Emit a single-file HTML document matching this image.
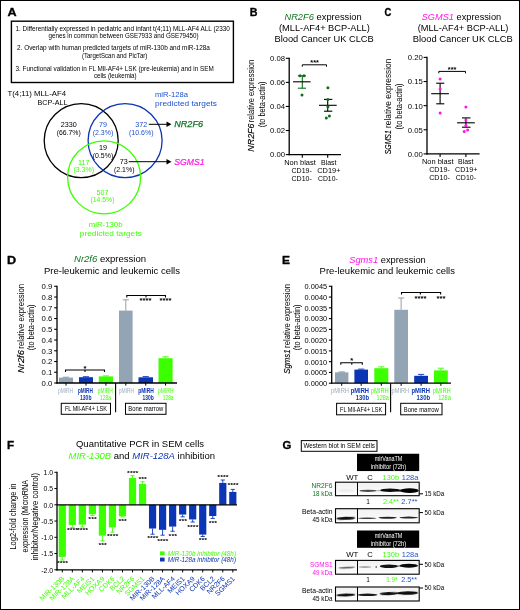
<!DOCTYPE html>
<html lang="en">
<head>
<meta charset="utf-8">
<title>Figure</title>
<style>
html,body{margin:0;padding:0;background:#fff;}
body{width:520px;height:610px;overflow:hidden;}
svg{display:block;font-family:'Liberation Sans', sans-serif;will-change:transform;}
</style>
</head>
<body>
<svg width="520" height="610" viewBox="0 0 520 610">
<defs>
<filter id="bl" x="-20%" y="-150%" width="140%" height="400%"><feGaussianBlur stdDeviation="0.6"/></filter>
<linearGradient id="bg" x1="0" y1="0" x2="0" y2="1"><stop offset="0" stop-color="#f1f1f1"/><stop offset="1" stop-color="#fdfdfd"/></linearGradient>
<clipPath id="cpG"><rect x="336" y="482.7" width="82.7" height="12.5"/><rect x="336" y="509.2" width="82.7" height="13.1"/><rect x="336" y="560.9" width="82.7" height="12.8"/><rect x="336" y="587.5" width="82.7" height="13"/></clipPath>
</defs>
<rect x="0" y="0" width="520" height="610" fill="#fff"/>
<g id="panelA">
<text x="7.44" y="15.70" font-size="10" font-weight="bold" textLength="9.12" lengthAdjust="spacingAndGlyphs" stroke="#000" stroke-width="0.3">A</text>
<rect x="11.40" y="21.20" width="222.00" height="61.30" fill="none" stroke="#000" stroke-width="1.4" />
<text x="15.50" y="30.65" font-size="6.8" textLength="214.30" lengthAdjust="spacingAndGlyphs">1. Differentially expressed in pediatric and infant t(4;11) MLL-AF4 ALL (2330</text>
<text x="48.50" y="38.15" font-size="6.8" textLength="150.10" lengthAdjust="spacingAndGlyphs">genes in common between GSE7933 and GSE79450)</text>
<text x="17.00" y="50.25" font-size="6.8" textLength="192.90" lengthAdjust="spacingAndGlyphs">2. Overlap with human predicted targets of miR-130b and miR-128a</text>
<text x="81.90" y="58.25" font-size="6.8" textLength="65.50" lengthAdjust="spacingAndGlyphs">(TargetScan and PicTar)</text>
<text x="15.50" y="70.55" font-size="6.8" textLength="198.20" lengthAdjust="spacingAndGlyphs">3. Functional validation in FL Mll-AF4+ LSK (pre-leukemia) and in SEM</text>
<text x="93.90" y="77.95" font-size="6.8" textLength="42.70" lengthAdjust="spacingAndGlyphs">cells (leukemia)</text>
<text x="7.50" y="96.18" font-size="8" textLength="58.50" lengthAdjust="spacingAndGlyphs">T(4;11) MLL-AF4</text>
<text x="37.50" y="104.88" font-size="8" textLength="30.00" lengthAdjust="spacingAndGlyphs">BCP-ALL</text>
<text x="155.00" y="96.88" font-size="8" textLength="33.00" lengthAdjust="spacingAndGlyphs" fill="#1f50cc">miR-128a</text>
<text x="155.00" y="105.88" font-size="8" textLength="62.00" lengthAdjust="spacingAndGlyphs" fill="#1f50cc">predicted targets</text>
<circle cx="81.2" cy="140.6" r="37" fill="none" stroke="#000" stroke-width="1.3"/>
<circle cx="125.1" cy="140.6" r="37" fill="none" stroke="#0a35b4" stroke-width="1.3"/>
<circle cx="104.1" cy="177.3" r="36.5" fill="none" stroke="#3cff00" stroke-width="1.3"/>
<text x="60.75" y="127.13" font-size="7.3" textLength="16.00" lengthAdjust="spacingAndGlyphs">2330</text>
<text x="56.75" y="134.63" font-size="7.3" textLength="24.00" lengthAdjust="spacingAndGlyphs">(66.7%)</text>
<text x="99.00" y="127.13" font-size="7.3" textLength="8.00" lengthAdjust="spacingAndGlyphs" fill="#1f50cc">79</text>
<text x="92.75" y="134.63" font-size="7.3" textLength="20.50" lengthAdjust="spacingAndGlyphs" fill="#1f50cc">(2.3%)</text>
<text x="99.00" y="150.13" font-size="7.3" textLength="8.00" lengthAdjust="spacingAndGlyphs">19</text>
<text x="92.75" y="157.63" font-size="7.3" textLength="20.50" lengthAdjust="spacingAndGlyphs">(0.5%)</text>
<text x="78.00" y="165.13" font-size="7.3" textLength="11.50" lengthAdjust="spacingAndGlyphs" fill="#3cff00">117</text>
<text x="73.50" y="172.13" font-size="7.3" textLength="20.50" lengthAdjust="spacingAndGlyphs" fill="#3cff00">(3.3%)</text>
<text x="96.50" y="194.63" font-size="7.3" textLength="12.00" lengthAdjust="spacingAndGlyphs" fill="#3cff00">507</text>
<text x="90.50" y="201.93" font-size="7.3" textLength="24.00" lengthAdjust="spacingAndGlyphs" fill="#3cff00">(14.5%)</text>
<text x="119.75" y="163.93" font-size="7.3" textLength="8.00" lengthAdjust="spacingAndGlyphs">73</text>
<text x="114.00" y="172.13" font-size="7.3" textLength="20.50" lengthAdjust="spacingAndGlyphs">(2.1%)</text>
<text x="135.25" y="126.93" font-size="7.3" textLength="12.00" lengthAdjust="spacingAndGlyphs" fill="#1f50cc">372</text>
<text x="129.00" y="134.63" font-size="7.3" textLength="24.50" lengthAdjust="spacingAndGlyphs" fill="#1f50cc">(10.6%)</text>
<line x1="148.75" y1="124.30" x2="168.00" y2="124.30" stroke="#000" stroke-width="1" />
<path d="M171.5,124.3 L166.5,121.6 L166.5,127 Z" fill="#000"/>
<line x1="128.75" y1="161.70" x2="168.00" y2="161.70" stroke="#000" stroke-width="1" />
<path d="M171.5,161.7 L166.5,159 L166.5,164.4 Z" fill="#000"/>
<text x="174.25" y="127.40" font-size="8.6" textLength="28.75" lengthAdjust="spacingAndGlyphs" fill="#107522" font-style="italic" stroke="#107522" stroke-width="0.25">NR2F6</text>
<text x="174.25" y="164.70" font-size="8.6" textLength="30.25" lengthAdjust="spacingAndGlyphs" fill="#ff14e6" font-style="italic" stroke="#ff14e6" stroke-width="0.2">SGMS1</text>
<text x="88.80" y="227.08" font-size="8" textLength="33.70" lengthAdjust="spacingAndGlyphs" fill="#3cff00">miR-130b</text>
<text x="79.80" y="236.38" font-size="8" textLength="61.90" lengthAdjust="spacingAndGlyphs" fill="#3cff00">predicted targets</text>
</g>
<g id="panelB">
<text x="249.72" y="15.80" font-size="10" font-weight="bold" textLength="7.75" lengthAdjust="spacingAndGlyphs" stroke="#000" stroke-width="0.3">B</text>
<text x="284.40" y="20.17" font-size="8.8" textLength="77.30" lengthAdjust="spacingAndGlyphs"><tspan fill="#107522" font-style="italic">NR2F6</tspan> expression</text>
<text x="279.00" y="30.87" font-size="8.8" textLength="90.80" lengthAdjust="spacingAndGlyphs">(MLL-AF4+ BCP-ALL)</text>
<text x="274.50" y="42.17" font-size="8.8" textLength="99.30" lengthAdjust="spacingAndGlyphs">Blood Cancer UK CLCB</text>
<line x1="289.20" y1="57.70" x2="289.20" y2="155.20" stroke="#000" stroke-width="1.3" />
<line x1="288.60" y1="154.60" x2="341.00" y2="154.60" stroke="#000" stroke-width="1.3" />
<line x1="285.80" y1="58.30" x2="289.20" y2="58.30" stroke="#000" stroke-width="1.1" />
<text x="270.00" y="61.18" font-size="8" textLength="15.00" lengthAdjust="spacingAndGlyphs">0.08</text>
<line x1="285.80" y1="82.38" x2="289.20" y2="82.38" stroke="#000" stroke-width="1.1" />
<text x="270.00" y="85.25" font-size="8" textLength="15.00" lengthAdjust="spacingAndGlyphs">0.06</text>
<line x1="285.80" y1="106.45" x2="289.20" y2="106.45" stroke="#000" stroke-width="1.1" />
<text x="270.00" y="109.33" font-size="8" textLength="15.00" lengthAdjust="spacingAndGlyphs">0.04</text>
<line x1="285.80" y1="130.52" x2="289.20" y2="130.52" stroke="#000" stroke-width="1.1" />
<text x="270.00" y="133.40" font-size="8" textLength="15.00" lengthAdjust="spacingAndGlyphs">0.02</text>
<line x1="285.80" y1="154.60" x2="289.20" y2="154.60" stroke="#000" stroke-width="1.1" />
<text x="270.00" y="157.48" font-size="8" textLength="15.00" lengthAdjust="spacingAndGlyphs">0.00</text>
<line x1="302.30" y1="154.60" x2="302.30" y2="157.80" stroke="#000" stroke-width="1.1" />
<line x1="327.70" y1="154.60" x2="327.70" y2="157.80" stroke="#000" stroke-width="1.1" />
<text transform="translate(254.24,151.70) rotate(-90)" font-size="9.9" font-style="italic" textLength="28.20" lengthAdjust="spacingAndGlyphs" stroke="#000" stroke-width="0.15">NR2F6</text>
<text transform="translate(254.24,122.30) rotate(-90)" font-size="9" textLength="62.50" lengthAdjust="spacingAndGlyphs">relative expression</text>
<text transform="translate(265.32,104.40) rotate(-90)" font-size="8.4" text-anchor="middle" textLength="45.80" lengthAdjust="spacingAndGlyphs">(to beta-actin)</text>
<line x1="302.30" y1="75.80" x2="302.30" y2="88.20" stroke="#0f6e1a" stroke-width="1.1" />
<line x1="297.90" y1="75.80" x2="306.00" y2="75.80" stroke="#0f6e1a" stroke-width="1.1" />
<line x1="297.90" y1="88.20" x2="306.00" y2="88.20" stroke="#0f6e1a" stroke-width="1.1" />
<line x1="293.10" y1="81.80" x2="310.60" y2="81.80" stroke="#000" stroke-width="1.1" />
<circle cx="300.00" cy="75.80" r="1.5" fill="#0f6e1a"/>
<circle cx="304.00" cy="75.80" r="1.5" fill="#0f6e1a"/>
<circle cx="302.00" cy="95.00" r="1.5" fill="#0f6e1a"/>
<line x1="327.70" y1="99.40" x2="327.70" y2="111.20" stroke="#000" stroke-width="1.1" />
<line x1="324.00" y1="99.40" x2="332.30" y2="99.40" stroke="#000" stroke-width="1.1" />
<line x1="324.00" y1="111.20" x2="332.30" y2="111.20" stroke="#000" stroke-width="1.1" />
<line x1="319.00" y1="105.30" x2="336.70" y2="105.30" stroke="#000" stroke-width="1.1" />
<circle cx="327.90" cy="87.80" r="1.5" fill="#0f6e1a"/>
<circle cx="327.90" cy="99.40" r="1.5" fill="#0f6e1a"/>
<circle cx="327.90" cy="106.70" r="1.5" fill="#0f6e1a"/>
<circle cx="329.40" cy="115.90" r="1.5" fill="#0f6e1a"/>
<circle cx="326.30" cy="118.10" r="1.5" fill="#0f6e1a"/>
<path d="M302.30,66.70 V64.80 H326.50 V66.70" stroke="#000" stroke-width="1" fill="none" />
<text x="310.30" y="65.24" font-size="6.5" textLength="8.60" lengthAdjust="spacingAndGlyphs" font-weight="bold">***</text>
<text x="284.20" y="164.94" font-size="7.6" textLength="31.60" lengthAdjust="spacingAndGlyphs">Non blast</text>
<text x="291.50" y="173.14" font-size="7.6" textLength="20.30" lengthAdjust="spacingAndGlyphs">CD19-</text>
<text x="291.50" y="180.54" font-size="7.6" textLength="20.30" lengthAdjust="spacingAndGlyphs">CD10-</text>
<text x="321.00" y="164.94" font-size="7.6" textLength="15.50" lengthAdjust="spacingAndGlyphs">Blast</text>
<text x="317.20" y="173.14" font-size="7.6" textLength="23.30" lengthAdjust="spacingAndGlyphs">CD19+</text>
<text x="318.00" y="180.54" font-size="7.6" textLength="19.70" lengthAdjust="spacingAndGlyphs">CD10-</text>
</g>
<g id="panelC">
<text x="384.38" y="15.80" font-size="10" font-weight="bold" textLength="6.84" lengthAdjust="spacingAndGlyphs" stroke="#000" stroke-width="0.3">C</text>
<text x="421.70" y="20.17" font-size="8.8" textLength="79.50" lengthAdjust="spacingAndGlyphs"><tspan fill="#ff14e6" font-style="italic">SGMS1</tspan> expression</text>
<text x="417.70" y="30.87" font-size="8.8" textLength="90.70" lengthAdjust="spacingAndGlyphs">(MLL-AF4+ BCP-ALL)</text>
<text x="412.80" y="42.17" font-size="8.8" textLength="99.90" lengthAdjust="spacingAndGlyphs">Blood Cancer UK CLCB</text>
<line x1="427.00" y1="56.80" x2="427.00" y2="154.50" stroke="#000" stroke-width="1.3" />
<line x1="426.40" y1="153.90" x2="479.60" y2="153.90" stroke="#000" stroke-width="1.3" />
<line x1="423.60" y1="57.40" x2="427.00" y2="57.40" stroke="#000" stroke-width="1.1" />
<text x="407.80" y="60.28" font-size="8" textLength="15.00" lengthAdjust="spacingAndGlyphs">0.20</text>
<line x1="423.60" y1="81.53" x2="427.00" y2="81.53" stroke="#000" stroke-width="1.1" />
<text x="407.80" y="84.41" font-size="8" textLength="15.00" lengthAdjust="spacingAndGlyphs">0.15</text>
<line x1="423.60" y1="105.65" x2="427.00" y2="105.65" stroke="#000" stroke-width="1.1" />
<text x="407.80" y="108.53" font-size="8" textLength="15.00" lengthAdjust="spacingAndGlyphs">0.10</text>
<line x1="423.60" y1="129.78" x2="427.00" y2="129.78" stroke="#000" stroke-width="1.1" />
<text x="407.80" y="132.66" font-size="8" textLength="15.00" lengthAdjust="spacingAndGlyphs">0.05</text>
<line x1="423.60" y1="153.90" x2="427.00" y2="153.90" stroke="#000" stroke-width="1.1" />
<text x="407.80" y="156.78" font-size="8" textLength="15.00" lengthAdjust="spacingAndGlyphs">0.00</text>
<line x1="440.10" y1="153.90" x2="440.10" y2="157.10" stroke="#000" stroke-width="1.1" />
<line x1="465.90" y1="153.90" x2="465.90" y2="157.10" stroke="#000" stroke-width="1.1" />
<text transform="translate(390.84,154.20) rotate(-90)" font-size="9.9" font-style="italic" textLength="23.90" lengthAdjust="spacingAndGlyphs" stroke="#000" stroke-width="0.15">SGMS1</text>
<text transform="translate(390.84,127.90) rotate(-90)" font-size="9" textLength="69.20" lengthAdjust="spacingAndGlyphs">relative expression</text>
<text transform="translate(402.22,106.40) rotate(-90)" font-size="8.4" text-anchor="middle" textLength="46.00" lengthAdjust="spacingAndGlyphs">(to beta-actin)</text>
<line x1="440.10" y1="83.20" x2="440.10" y2="103.80" stroke="#000" stroke-width="1.1" />
<line x1="436.20" y1="83.20" x2="444.30" y2="83.20" stroke="#000" stroke-width="1.1" />
<line x1="436.20" y1="103.80" x2="444.30" y2="103.80" stroke="#000" stroke-width="1.1" />
<line x1="431.20" y1="93.70" x2="448.90" y2="93.70" stroke="#000" stroke-width="1.1" />
<circle cx="440.10" cy="79.00" r="1.5" fill="#ff14e6"/>
<circle cx="440.10" cy="89.10" r="1.5" fill="#ff14e6"/>
<circle cx="440.10" cy="113.10" r="1.5" fill="#ff14e6"/>
<line x1="465.90" y1="117.90" x2="465.90" y2="127.20" stroke="#000" stroke-width="1.1" />
<line x1="462.00" y1="117.90" x2="470.50" y2="117.90" stroke="#000" stroke-width="1.1" />
<line x1="462.00" y1="127.20" x2="470.50" y2="127.20" stroke="#000" stroke-width="1.1" />
<line x1="457.10" y1="122.80" x2="474.80" y2="122.80" stroke="#000" stroke-width="1.1" />
<circle cx="465.90" cy="107.00" r="1.5" fill="#ff14e6"/>
<circle cx="465.90" cy="119.90" r="1.5" fill="#ff14e6"/>
<circle cx="465.90" cy="125.40" r="1.5" fill="#ff14e6"/>
<circle cx="467.60" cy="130.10" r="1.5" fill="#ff14e6"/>
<circle cx="464.20" cy="131.40" r="1.5" fill="#ff14e6"/>
<path d="M438.80,73.30 V71.40 H465.50 V73.30" stroke="#000" stroke-width="1" fill="none" />
<text x="447.80" y="72.04" font-size="6.5" textLength="8.60" lengthAdjust="spacingAndGlyphs" font-weight="bold">***</text>
<text x="421.90" y="164.44" font-size="7.6" textLength="31.60" lengthAdjust="spacingAndGlyphs">Non blast</text>
<text x="429.20" y="171.94" font-size="7.6" textLength="20.70" lengthAdjust="spacingAndGlyphs">CD19-</text>
<text x="429.20" y="179.54" font-size="7.6" textLength="20.70" lengthAdjust="spacingAndGlyphs">CD10-</text>
<text x="458.00" y="164.44" font-size="7.6" textLength="15.50" lengthAdjust="spacingAndGlyphs">Blast</text>
<text x="455.00" y="171.94" font-size="7.6" textLength="22.30" lengthAdjust="spacingAndGlyphs">CD19+</text>
<text x="455.80" y="179.54" font-size="7.6" textLength="20.20" lengthAdjust="spacingAndGlyphs">CD10-</text>
</g>
<g id="panelD">
<text x="6.94" y="264.10" font-size="10" font-weight="bold" textLength="9.12" lengthAdjust="spacingAndGlyphs" stroke="#000" stroke-width="0.3">D</text>
<text x="74.00" y="262.10" font-size="8.6" textLength="72.00" lengthAdjust="spacingAndGlyphs"><tspan fill="#107522" font-style="italic">Nr2f6</tspan> expression</text>
<text x="44.00" y="274.10" font-size="8.6" textLength="136.00" lengthAdjust="spacingAndGlyphs">Pre-leukemic and leukemic cells</text>
<rect x="59.00" y="377.60" width="14.00" height="5.40" fill="#93a4b5" />
<line x1="66.00" y1="377.20" x2="66.00" y2="377.60" stroke="#7d91a4" stroke-width="0.9" />
<line x1="62.90" y1="377.20" x2="69.10" y2="377.20" stroke="#7d91a4" stroke-width="0.9" />
<line x1="66.00" y1="383.00" x2="66.00" y2="385.60" stroke="#000" stroke-width="1" />
<rect x="79.00" y="377.20" width="14.00" height="5.80" fill="#0a35b4" />
<line x1="86.00" y1="376.70" x2="86.00" y2="377.20" stroke="#0a35b4" stroke-width="0.9" />
<line x1="82.90" y1="376.70" x2="89.10" y2="376.70" stroke="#0a35b4" stroke-width="0.9" />
<line x1="86.00" y1="383.00" x2="86.00" y2="385.60" stroke="#000" stroke-width="1" />
<rect x="98.80" y="376.40" width="14.20" height="6.60" fill="#3cff00" />
<line x1="105.90" y1="375.90" x2="105.90" y2="376.40" stroke="#3cff00" stroke-width="0.9" />
<line x1="102.80" y1="375.90" x2="109.00" y2="375.90" stroke="#3cff00" stroke-width="0.9" />
<line x1="105.90" y1="383.00" x2="105.90" y2="385.60" stroke="#000" stroke-width="1" />
<rect x="119.00" y="310.60" width="13.60" height="72.40" fill="#93a4b5" />
<line x1="125.80" y1="299.80" x2="125.80" y2="310.60" stroke="#8296a9" stroke-width="0.9" />
<line x1="122.70" y1="299.80" x2="128.90" y2="299.80" stroke="#8296a9" stroke-width="0.9" />
<line x1="125.80" y1="383.00" x2="125.80" y2="385.60" stroke="#000" stroke-width="1" />
<rect x="138.50" y="377.30" width="14.50" height="5.70" fill="#0a35b4" />
<line x1="145.75" y1="376.60" x2="145.75" y2="377.30" stroke="#0a35b4" stroke-width="0.9" />
<line x1="142.65" y1="376.60" x2="148.85" y2="376.60" stroke="#0a35b4" stroke-width="0.9" />
<line x1="145.75" y1="383.00" x2="145.75" y2="385.60" stroke="#000" stroke-width="1" />
<rect x="158.50" y="358.20" width="14.10" height="24.80" fill="#3cff00" />
<line x1="165.55" y1="356.80" x2="165.55" y2="358.20" stroke="#3cff00" stroke-width="0.9" />
<line x1="162.45" y1="356.80" x2="168.65" y2="356.80" stroke="#3cff00" stroke-width="0.9" />
<line x1="165.55" y1="383.00" x2="165.55" y2="385.60" stroke="#000" stroke-width="1" />
<line x1="57.00" y1="285.70" x2="57.00" y2="383.60" stroke="#000" stroke-width="1.3" />
<line x1="56.40" y1="383.00" x2="177.00" y2="383.00" stroke="#000" stroke-width="1.3" />
<line x1="54.20" y1="286.30" x2="57.00" y2="286.30" stroke="#000" stroke-width="1.1" />
<text x="41.60" y="289.18" font-size="8" textLength="10.80" lengthAdjust="spacingAndGlyphs">0.9</text>
<line x1="54.20" y1="297.04" x2="57.00" y2="297.04" stroke="#000" stroke-width="1.1" />
<text x="41.60" y="299.92" font-size="8" textLength="10.80" lengthAdjust="spacingAndGlyphs">0.8</text>
<line x1="54.20" y1="307.79" x2="57.00" y2="307.79" stroke="#000" stroke-width="1.1" />
<text x="41.60" y="310.67" font-size="8" textLength="10.80" lengthAdjust="spacingAndGlyphs">0.7</text>
<line x1="54.20" y1="318.53" x2="57.00" y2="318.53" stroke="#000" stroke-width="1.1" />
<text x="41.60" y="321.41" font-size="8" textLength="10.80" lengthAdjust="spacingAndGlyphs">0.6</text>
<line x1="54.20" y1="329.28" x2="57.00" y2="329.28" stroke="#000" stroke-width="1.1" />
<text x="41.60" y="332.16" font-size="8" textLength="10.80" lengthAdjust="spacingAndGlyphs">0.5</text>
<line x1="54.20" y1="340.02" x2="57.00" y2="340.02" stroke="#000" stroke-width="1.1" />
<text x="41.60" y="342.90" font-size="8" textLength="10.80" lengthAdjust="spacingAndGlyphs">0.4</text>
<line x1="54.20" y1="350.77" x2="57.00" y2="350.77" stroke="#000" stroke-width="1.1" />
<text x="41.60" y="353.65" font-size="8" textLength="10.80" lengthAdjust="spacingAndGlyphs">0.3</text>
<line x1="54.20" y1="361.51" x2="57.00" y2="361.51" stroke="#000" stroke-width="1.1" />
<text x="41.60" y="364.39" font-size="8" textLength="10.80" lengthAdjust="spacingAndGlyphs">0.2</text>
<line x1="54.20" y1="372.26" x2="57.00" y2="372.26" stroke="#000" stroke-width="1.1" />
<text x="41.60" y="375.14" font-size="8" textLength="10.80" lengthAdjust="spacingAndGlyphs">0.1</text>
<line x1="54.20" y1="383.00" x2="57.00" y2="383.00" stroke="#000" stroke-width="1.1" />
<text x="41.60" y="385.88" font-size="8" textLength="10.80" lengthAdjust="spacingAndGlyphs">0.0</text>
<line x1="115.60" y1="383.00" x2="115.60" y2="412.30" stroke="#000" stroke-width="1.1" />
<text transform="translate(24.24,373.00) rotate(-90)" font-size="9.9" font-style="italic" textLength="22.90" lengthAdjust="spacingAndGlyphs" stroke="#000" stroke-width="0.15">Nr2f6</text>
<text transform="translate(24.24,348.70) rotate(-90)" font-size="9" textLength="64.80" lengthAdjust="spacingAndGlyphs">relative expression</text>
<text transform="translate(34.32,327.30) rotate(-90)" font-size="8.4" text-anchor="middle" textLength="45.70" lengthAdjust="spacingAndGlyphs">(to beta-actin)</text>
<text x="58.00" y="393.22" font-size="7" textLength="15.00" lengthAdjust="spacingAndGlyphs" fill="#9aabbb">pMIRH</text>
<text x="78.00" y="393.22" font-size="7" textLength="14.80" lengthAdjust="spacingAndGlyphs" fill="#0a35b4" font-weight="bold">pMIRH</text>
<text x="80.00" y="399.72" font-size="7" textLength="11.50" lengthAdjust="spacingAndGlyphs" fill="#0a35b4" font-weight="bold">130b</text>
<text x="97.70" y="393.22" font-size="7" textLength="15.10" lengthAdjust="spacingAndGlyphs" fill="#3cff00">pMIRH</text>
<text x="100.00" y="399.72" font-size="7" textLength="11.00" lengthAdjust="spacingAndGlyphs" fill="#3cff00">128a</text>
<text x="118.80" y="393.22" font-size="7" textLength="15.40" lengthAdjust="spacingAndGlyphs" fill="#9aabbb">pMIRH</text>
<text x="138.20" y="393.22" font-size="7" textLength="15.60" lengthAdjust="spacingAndGlyphs" fill="#0a35b4" font-weight="bold">pMIRH</text>
<text x="142.60" y="399.52" font-size="7" textLength="11.20" lengthAdjust="spacingAndGlyphs" fill="#0a35b4" font-weight="bold">130b</text>
<text x="158.00" y="393.22" font-size="7" textLength="15.50" lengthAdjust="spacingAndGlyphs" fill="#3cff00">pMIRH</text>
<text x="162.80" y="399.52" font-size="7" textLength="10.70" lengthAdjust="spacingAndGlyphs" fill="#3cff00">128a</text>
<rect x="61.25" y="403.30" width="49.25" height="11.00" fill="none" stroke="#000" stroke-width="1" />
<text x="64.88" y="411.32" font-size="7" textLength="42.00" lengthAdjust="spacingAndGlyphs">FL Mll-AF4+ LSK</text>
<rect x="125.50" y="403.30" width="40.50" height="11.00" fill="none" stroke="#000" stroke-width="1" />
<text x="128.25" y="411.32" font-size="7" textLength="35.00" lengthAdjust="spacingAndGlyphs">Bone marrow</text>
<path d="M65.50,372.00 V370.00 H104.50 V372.00 M85.00,370.00 V372.00" stroke="#000" stroke-width="1.1" fill="none" />
<text x="83.50" y="370.54" font-size="6.5" textLength="3.00" lengthAdjust="spacingAndGlyphs" font-weight="bold">*</text>
<path d="M126.80,297.50 V295.50 H165.50 V297.50 M146.00,295.50 V297.50" stroke="#000" stroke-width="1.1" fill="none" />
<text x="139.50" y="303.34" font-size="6.5" textLength="12.00" lengthAdjust="spacingAndGlyphs" font-weight="bold">****</text>
<text x="159.50" y="303.34" font-size="6.5" textLength="12.00" lengthAdjust="spacingAndGlyphs" font-weight="bold">****</text>
</g>
<g id="panelE">
<text x="282.01" y="264.10" font-size="10" font-weight="bold" textLength="7.98" lengthAdjust="spacingAndGlyphs" stroke="#000" stroke-width="0.3">E</text>
<text x="349.20" y="262.50" font-size="8.6" textLength="76.60" lengthAdjust="spacingAndGlyphs"><tspan fill="#ff14e6" font-style="italic">Sgms1</tspan> expression</text>
<text x="319.60" y="273.80" font-size="8.6" textLength="135.30" lengthAdjust="spacingAndGlyphs">Pre-leukemic and leukemic cells</text>
<rect x="335.00" y="372.30" width="13.40" height="10.90" fill="#93a4b5" />
<line x1="341.70" y1="371.90" x2="341.70" y2="372.30" stroke="#7d91a4" stroke-width="0.9" />
<line x1="338.60" y1="371.90" x2="344.80" y2="371.90" stroke="#7d91a4" stroke-width="0.9" />
<line x1="341.70" y1="383.20" x2="341.70" y2="385.80" stroke="#000" stroke-width="1" />
<rect x="354.40" y="369.60" width="13.60" height="13.60" fill="#0a35b4" />
<line x1="361.20" y1="369.10" x2="361.20" y2="369.60" stroke="#0a35b4" stroke-width="0.9" />
<line x1="358.10" y1="369.10" x2="364.30" y2="369.10" stroke="#0a35b4" stroke-width="0.9" />
<line x1="361.20" y1="383.20" x2="361.20" y2="385.80" stroke="#000" stroke-width="1" />
<rect x="374.30" y="368.20" width="14.00" height="15.00" fill="#3cff00" />
<line x1="381.30" y1="366.80" x2="381.30" y2="368.20" stroke="#3cff00" stroke-width="0.9" />
<line x1="378.20" y1="366.80" x2="384.40" y2="366.80" stroke="#3cff00" stroke-width="0.9" />
<line x1="381.30" y1="383.20" x2="381.30" y2="385.80" stroke="#000" stroke-width="1" />
<rect x="394.30" y="309.80" width="13.70" height="73.40" fill="#93a4b5" />
<line x1="401.15" y1="298.00" x2="401.15" y2="309.80" stroke="#8296a9" stroke-width="0.9" />
<line x1="398.05" y1="298.00" x2="404.25" y2="298.00" stroke="#8296a9" stroke-width="0.9" />
<line x1="401.15" y1="383.20" x2="401.15" y2="385.80" stroke="#000" stroke-width="1" />
<rect x="414.20" y="375.80" width="13.80" height="7.40" fill="#0a35b4" />
<line x1="421.10" y1="374.40" x2="421.10" y2="375.80" stroke="#0a35b4" stroke-width="0.9" />
<line x1="418.00" y1="374.40" x2="424.20" y2="374.40" stroke="#0a35b4" stroke-width="0.9" />
<line x1="421.10" y1="383.20" x2="421.10" y2="385.80" stroke="#000" stroke-width="1" />
<rect x="434.00" y="370.40" width="13.80" height="12.80" fill="#3cff00" />
<line x1="440.90" y1="368.20" x2="440.90" y2="370.40" stroke="#3cff00" stroke-width="0.9" />
<line x1="437.80" y1="368.20" x2="444.00" y2="368.20" stroke="#3cff00" stroke-width="0.9" />
<line x1="440.90" y1="383.20" x2="440.90" y2="385.80" stroke="#000" stroke-width="1" />
<line x1="331.70" y1="285.70" x2="331.70" y2="383.80" stroke="#000" stroke-width="1.3" />
<line x1="331.10" y1="383.20" x2="451.00" y2="383.20" stroke="#000" stroke-width="1.3" />
<line x1="328.90" y1="286.30" x2="331.70" y2="286.30" stroke="#000" stroke-width="1.1" />
<text x="304.50" y="289.18" font-size="8" textLength="22.60" lengthAdjust="spacingAndGlyphs">0.0045</text>
<line x1="328.90" y1="297.07" x2="331.70" y2="297.07" stroke="#000" stroke-width="1.1" />
<text x="304.50" y="299.95" font-size="8" textLength="22.60" lengthAdjust="spacingAndGlyphs">0.0040</text>
<line x1="328.90" y1="307.83" x2="331.70" y2="307.83" stroke="#000" stroke-width="1.1" />
<text x="304.50" y="310.71" font-size="8" textLength="22.60" lengthAdjust="spacingAndGlyphs">0.0035</text>
<line x1="328.90" y1="318.60" x2="331.70" y2="318.60" stroke="#000" stroke-width="1.1" />
<text x="304.50" y="321.48" font-size="8" textLength="22.60" lengthAdjust="spacingAndGlyphs">0.0030</text>
<line x1="328.90" y1="329.37" x2="331.70" y2="329.37" stroke="#000" stroke-width="1.1" />
<text x="304.50" y="332.25" font-size="8" textLength="22.60" lengthAdjust="spacingAndGlyphs">0.0025</text>
<line x1="328.90" y1="340.13" x2="331.70" y2="340.13" stroke="#000" stroke-width="1.1" />
<text x="304.50" y="343.01" font-size="8" textLength="22.60" lengthAdjust="spacingAndGlyphs">0.0020</text>
<line x1="328.90" y1="350.90" x2="331.70" y2="350.90" stroke="#000" stroke-width="1.1" />
<text x="304.50" y="353.78" font-size="8" textLength="22.60" lengthAdjust="spacingAndGlyphs">0.0015</text>
<line x1="328.90" y1="361.67" x2="331.70" y2="361.67" stroke="#000" stroke-width="1.1" />
<text x="304.50" y="364.55" font-size="8" textLength="22.60" lengthAdjust="spacingAndGlyphs">0.0010</text>
<line x1="328.90" y1="372.43" x2="331.70" y2="372.43" stroke="#000" stroke-width="1.1" />
<text x="304.50" y="375.31" font-size="8" textLength="22.60" lengthAdjust="spacingAndGlyphs">0.0005</text>
<line x1="328.90" y1="383.20" x2="331.70" y2="383.20" stroke="#000" stroke-width="1.1" />
<text x="304.50" y="386.08" font-size="8" textLength="22.60" lengthAdjust="spacingAndGlyphs">0.0000</text>
<line x1="390.60" y1="383.20" x2="390.60" y2="412.30" stroke="#000" stroke-width="1.1" />
<text transform="translate(289.64,373.70) rotate(-90)" font-size="9.9" font-style="italic" textLength="24.30" lengthAdjust="spacingAndGlyphs" stroke="#000" stroke-width="0.15">Sgms1</text>
<text transform="translate(289.64,347.90) rotate(-90)" font-size="9" textLength="64.00" lengthAdjust="spacingAndGlyphs">relative expression</text>
<text transform="translate(300.32,327.30) rotate(-90)" font-size="8.4" text-anchor="middle" textLength="45.70" lengthAdjust="spacingAndGlyphs">(to beta-actin)</text>
<text x="331.00" y="393.22" font-size="7" textLength="18.00" lengthAdjust="spacingAndGlyphs" fill="#9aabbb">pMIRH</text>
<text x="350.80" y="393.22" font-size="7" textLength="18.20" lengthAdjust="spacingAndGlyphs" fill="#0a35b4" font-weight="bold">pMIRH</text>
<text x="355.70" y="399.82" font-size="7" textLength="13.30" lengthAdjust="spacingAndGlyphs" fill="#0a35b4" font-weight="bold">130b</text>
<text x="370.80" y="393.22" font-size="7" textLength="18.00" lengthAdjust="spacingAndGlyphs" fill="#3cff00">pMIRH</text>
<text x="376.60" y="399.82" font-size="7" textLength="12.20" lengthAdjust="spacingAndGlyphs" fill="#3cff00">128a</text>
<text x="391.50" y="392.92" font-size="7" textLength="17.70" lengthAdjust="spacingAndGlyphs" fill="#9aabbb">pMIRH</text>
<text x="411.50" y="392.92" font-size="7" textLength="18.50" lengthAdjust="spacingAndGlyphs" fill="#0a35b4" font-weight="bold">pMIRH</text>
<text x="416.60" y="399.92" font-size="7" textLength="13.40" lengthAdjust="spacingAndGlyphs" fill="#0a35b4" font-weight="bold">130b</text>
<text x="432.80" y="392.92" font-size="7" textLength="18.00" lengthAdjust="spacingAndGlyphs" fill="#3cff00">pMIRH</text>
<text x="438.20" y="399.92" font-size="7" textLength="12.60" lengthAdjust="spacingAndGlyphs" fill="#3cff00">128a</text>
<rect x="336.60" y="403.30" width="49.00" height="11.50" fill="none" stroke="#000" stroke-width="1" />
<text x="340.10" y="411.57" font-size="7" textLength="42.00" lengthAdjust="spacingAndGlyphs">FL Mll-AF4+ LSK</text>
<rect x="400.70" y="403.30" width="41.30" height="11.50" fill="none" stroke="#000" stroke-width="1" />
<text x="403.85" y="411.57" font-size="7" textLength="35.00" lengthAdjust="spacingAndGlyphs">Bone marrow</text>
<path d="M340.80,364.70 V362.70 H362.30 V364.70 M351.80,362.70 V364.70" stroke="#000" stroke-width="1.1" fill="none" />
<text x="350.30" y="362.94" font-size="6.5" textLength="3.00" lengthAdjust="spacingAndGlyphs" font-weight="bold">*</text>
<path d="M401.50,294.50 V292.50 H440.60 V294.50 M420.40,292.50 V294.50" stroke="#000" stroke-width="1.1" fill="none" />
<text x="414.40" y="300.94" font-size="6.5" textLength="12.00" lengthAdjust="spacingAndGlyphs" font-weight="bold">****</text>
<text x="436.50" y="300.94" font-size="6.5" textLength="9.00" lengthAdjust="spacingAndGlyphs" font-weight="bold">***</text>
</g>
<g id="panelF">
<text x="7.06" y="449.00" font-size="10" font-weight="bold" textLength="7.12" lengthAdjust="spacingAndGlyphs" stroke="#000" stroke-width="0.3">F</text>
<text x="76.00" y="446.60" font-size="8.6" textLength="128.00" lengthAdjust="spacingAndGlyphs">Quantitative PCR in SEM cells</text>
<text x="68.5" y="459.10" font-size="8.6" textLength="146.5" lengthAdjust="spacingAndGlyphs"><tspan fill="#3cff00" font-style="italic">MIR-130B</tspan> and <tspan fill="#0a35b4" font-style="italic">MIR-128A</tspan> inhibition</text>
<rect x="58.70" y="504.80" width="7.20" height="52.10" fill="#3cff00" />
<line x1="62.30" y1="556.90" x2="62.30" y2="560.05" stroke="#3cff00" stroke-width="0.9" />
<line x1="60.20" y1="560.05" x2="64.40" y2="560.05" stroke="#3cff00" stroke-width="0.9" />
<text x="56.90" y="565.38" font-size="6.2" textLength="11.20" lengthAdjust="spacingAndGlyphs" font-weight="bold">****</text>
<line x1="62.30" y1="569.80" x2="62.30" y2="572.40" stroke="#000" stroke-width="1" />
<text transform="translate(64.90,579.20) rotate(-44)" font-size="7" text-anchor="end" fill="#3cff00">MIR-130B</text>
<rect x="68.73" y="504.80" width="7.20" height="20.15" fill="#3cff00" />
<line x1="72.33" y1="524.95" x2="72.33" y2="527.55" stroke="#3cff00" stroke-width="0.9" />
<line x1="70.23" y1="527.55" x2="74.43" y2="527.55" stroke="#3cff00" stroke-width="0.9" />
<text x="66.93" y="532.28" font-size="6.2" textLength="11.20" lengthAdjust="spacingAndGlyphs" font-weight="bold">****</text>
<line x1="72.33" y1="569.80" x2="72.33" y2="572.40" stroke="#000" stroke-width="1" />
<text transform="translate(74.93,579.20) rotate(-44)" font-size="7" text-anchor="end" fill="#3cff00">MIR-128A</text>
<rect x="78.76" y="504.80" width="7.20" height="19.82" fill="#3cff00" />
<line x1="82.36" y1="524.62" x2="82.36" y2="527.06" stroke="#3cff00" stroke-width="0.9" />
<line x1="80.26" y1="527.06" x2="84.46" y2="527.06" stroke="#3cff00" stroke-width="0.9" />
<text x="76.96" y="532.28" font-size="6.2" textLength="11.20" lengthAdjust="spacingAndGlyphs" font-weight="bold">****</text>
<line x1="82.36" y1="569.80" x2="82.36" y2="572.40" stroke="#000" stroke-width="1" />
<text transform="translate(84.96,579.20) rotate(-44)" font-size="7" text-anchor="end" fill="#3cff00">MLL-AF4</text>
<rect x="88.79" y="504.80" width="7.20" height="9.43" fill="#3cff00" />
<line x1="92.39" y1="514.23" x2="92.39" y2="515.52" stroke="#3cff00" stroke-width="0.9" />
<line x1="90.29" y1="515.52" x2="94.49" y2="515.52" stroke="#3cff00" stroke-width="0.9" />
<text x="88.39" y="521.08" font-size="6.2" textLength="8.40" lengthAdjust="spacingAndGlyphs" font-weight="bold">***</text>
<line x1="92.39" y1="569.80" x2="92.39" y2="572.40" stroke="#000" stroke-width="1" />
<text transform="translate(94.99,579.20) rotate(-44)" font-size="7" text-anchor="end" fill="#3cff00">MEIS1</text>
<rect x="98.82" y="504.80" width="7.20" height="30.87" fill="#3cff00" />
<line x1="102.42" y1="535.67" x2="102.42" y2="540.88" stroke="#3cff00" stroke-width="0.9" />
<line x1="100.32" y1="540.88" x2="104.52" y2="540.88" stroke="#3cff00" stroke-width="0.9" />
<text x="98.42" y="546.78" font-size="6.2" textLength="8.40" lengthAdjust="spacingAndGlyphs" font-weight="bold">***</text>
<line x1="102.42" y1="569.80" x2="102.42" y2="572.40" stroke="#000" stroke-width="1" />
<text transform="translate(105.02,579.20) rotate(-44)" font-size="7" text-anchor="end" fill="#3cff00">HOXA9</text>
<rect x="108.85" y="504.80" width="7.20" height="22.59" fill="#3cff00" />
<line x1="112.45" y1="527.39" x2="112.45" y2="532.10" stroke="#3cff00" stroke-width="0.9" />
<line x1="110.35" y1="532.10" x2="114.55" y2="532.10" stroke="#3cff00" stroke-width="0.9" />
<text x="107.05" y="537.68" font-size="6.2" textLength="11.20" lengthAdjust="spacingAndGlyphs" font-weight="bold">****</text>
<line x1="112.45" y1="569.80" x2="112.45" y2="572.40" stroke="#000" stroke-width="1" />
<text transform="translate(115.05,579.20) rotate(-44)" font-size="7" text-anchor="end" fill="#3cff00">CDK6</text>
<rect x="118.88" y="504.80" width="7.20" height="11.37" fill="#3cff00" />
<line x1="122.48" y1="516.17" x2="122.48" y2="516.83" stroke="#3cff00" stroke-width="0.9" />
<line x1="120.38" y1="516.83" x2="124.58" y2="516.83" stroke="#3cff00" stroke-width="0.9" />
<text x="118.48" y="522.58" font-size="6.2" textLength="8.40" lengthAdjust="spacingAndGlyphs" font-weight="bold">***</text>
<line x1="122.48" y1="569.80" x2="122.48" y2="572.40" stroke="#000" stroke-width="1" />
<text transform="translate(125.08,579.20) rotate(-44)" font-size="7" text-anchor="end" fill="#3cff00">BCL2</text>
<rect x="128.91" y="477.99" width="7.20" height="26.81" fill="#3cff00" />
<line x1="132.51" y1="477.99" x2="132.51" y2="475.71" stroke="#3cff00" stroke-width="0.9" />
<line x1="130.41" y1="475.71" x2="134.61" y2="475.71" stroke="#3cff00" stroke-width="0.9" />
<text x="127.11" y="474.98" font-size="6.2" textLength="11.20" lengthAdjust="spacingAndGlyphs" font-weight="bold">****</text>
<line x1="132.51" y1="569.80" x2="132.51" y2="572.40" stroke="#000" stroke-width="1" />
<text transform="translate(135.11,579.20) rotate(-44)" font-size="7" text-anchor="end" fill="#3cff00">NR2F6</text>
<rect x="138.94" y="483.90" width="7.20" height="20.90" fill="#3cff00" />
<line x1="142.54" y1="483.90" x2="142.54" y2="481.73" stroke="#3cff00" stroke-width="0.9" />
<line x1="140.44" y1="481.73" x2="144.64" y2="481.73" stroke="#3cff00" stroke-width="0.9" />
<text x="138.54" y="481.08" font-size="6.2" textLength="8.40" lengthAdjust="spacingAndGlyphs" font-weight="bold">***</text>
<line x1="142.54" y1="569.80" x2="142.54" y2="572.40" stroke="#000" stroke-width="1" />
<text transform="translate(145.14,579.20) rotate(-44)" font-size="7" text-anchor="end" fill="#3cff00">SGMS1</text>
<rect x="148.97" y="504.80" width="7.20" height="23.72" fill="#0a35b4" />
<line x1="152.57" y1="528.52" x2="152.57" y2="534.21" stroke="#0a35b4" stroke-width="0.9" />
<line x1="150.47" y1="534.21" x2="154.67" y2="534.21" stroke="#0a35b4" stroke-width="0.9" />
<text x="147.17" y="540.28" font-size="6.2" textLength="11.20" lengthAdjust="spacingAndGlyphs" font-weight="bold">****</text>
<line x1="152.57" y1="569.80" x2="152.57" y2="572.40" stroke="#000" stroke-width="1" />
<text transform="translate(155.17,579.20) rotate(-44)" font-size="7" text-anchor="end" fill="#0a35b4">MIR-130B</text>
<rect x="159.00" y="504.80" width="7.20" height="25.03" fill="#0a35b4" />
<line x1="162.60" y1="529.83" x2="162.60" y2="535.19" stroke="#0a35b4" stroke-width="0.9" />
<line x1="160.50" y1="535.19" x2="164.70" y2="535.19" stroke="#0a35b4" stroke-width="0.9" />
<text x="157.20" y="542.58" font-size="6.2" textLength="11.20" lengthAdjust="spacingAndGlyphs" font-weight="bold">****</text>
<line x1="162.60" y1="569.80" x2="162.60" y2="572.40" stroke="#000" stroke-width="1" />
<text transform="translate(165.20,579.20) rotate(-44)" font-size="7" text-anchor="end" fill="#0a35b4">MIR-128A</text>
<rect x="169.03" y="504.80" width="7.20" height="21.78" fill="#0a35b4" />
<line x1="172.63" y1="526.58" x2="172.63" y2="531.29" stroke="#0a35b4" stroke-width="0.9" />
<line x1="170.53" y1="531.29" x2="174.73" y2="531.29" stroke="#0a35b4" stroke-width="0.9" />
<text x="168.63" y="538.38" font-size="6.2" textLength="8.40" lengthAdjust="spacingAndGlyphs" font-weight="bold">***</text>
<line x1="172.63" y1="569.80" x2="172.63" y2="572.40" stroke="#000" stroke-width="1" />
<text transform="translate(175.23,579.20) rotate(-44)" font-size="7" text-anchor="end" fill="#0a35b4">MLL-AF4</text>
<rect x="179.06" y="504.80" width="7.20" height="9.75" fill="#0a35b4" />
<line x1="182.66" y1="514.55" x2="182.66" y2="516.83" stroke="#0a35b4" stroke-width="0.9" />
<line x1="180.56" y1="516.83" x2="184.76" y2="516.83" stroke="#0a35b4" stroke-width="0.9" />
<text x="178.66" y="522.98" font-size="6.2" textLength="8.40" lengthAdjust="spacingAndGlyphs" font-weight="bold">***</text>
<line x1="182.66" y1="569.80" x2="182.66" y2="572.40" stroke="#000" stroke-width="1" />
<text transform="translate(185.26,579.20) rotate(-44)" font-size="7" text-anchor="end" fill="#0a35b4">MEIS1</text>
<rect x="189.09" y="504.80" width="7.20" height="14.62" fill="#0a35b4" />
<line x1="192.69" y1="519.42" x2="192.69" y2="522.02" stroke="#0a35b4" stroke-width="0.9" />
<line x1="190.59" y1="522.02" x2="194.79" y2="522.02" stroke="#0a35b4" stroke-width="0.9" />
<text x="187.29" y="528.58" font-size="6.2" textLength="11.20" lengthAdjust="spacingAndGlyphs" font-weight="bold">****</text>
<line x1="192.69" y1="569.80" x2="192.69" y2="572.40" stroke="#000" stroke-width="1" />
<text transform="translate(195.29,579.20) rotate(-44)" font-size="7" text-anchor="end" fill="#0a35b4">HOXA9</text>
<rect x="199.12" y="504.80" width="7.20" height="29.80" fill="#0a35b4" />
<line x1="202.72" y1="534.60" x2="202.72" y2="536.49" stroke="#0a35b4" stroke-width="0.9" />
<line x1="200.62" y1="536.49" x2="204.82" y2="536.49" stroke="#0a35b4" stroke-width="0.9" />
<text x="198.72" y="541.98" font-size="6.2" textLength="8.40" lengthAdjust="spacingAndGlyphs" font-weight="bold">***</text>
<line x1="202.72" y1="569.80" x2="202.72" y2="572.40" stroke="#000" stroke-width="1" />
<text transform="translate(205.32,579.20) rotate(-44)" font-size="7" text-anchor="end" fill="#0a35b4">CDK6</text>
<rect x="209.15" y="504.80" width="7.20" height="11.21" fill="#0a35b4" />
<line x1="212.75" y1="516.01" x2="212.75" y2="518.45" stroke="#0a35b4" stroke-width="0.9" />
<line x1="210.65" y1="518.45" x2="214.85" y2="518.45" stroke="#0a35b4" stroke-width="0.9" />
<text x="208.75" y="524.68" font-size="6.2" textLength="8.40" lengthAdjust="spacingAndGlyphs" font-weight="bold">***</text>
<line x1="212.75" y1="569.80" x2="212.75" y2="572.40" stroke="#000" stroke-width="1" />
<text transform="translate(215.35,579.20) rotate(-44)" font-size="7" text-anchor="end" fill="#0a35b4">BCL2</text>
<rect x="219.18" y="482.89" width="7.20" height="21.91" fill="#0a35b4" />
<line x1="222.78" y1="482.89" x2="222.78" y2="480.00" stroke="#0a35b4" stroke-width="0.9" />
<line x1="220.68" y1="480.00" x2="224.88" y2="480.00" stroke="#0a35b4" stroke-width="0.9" />
<text x="217.38" y="479.48" font-size="6.2" textLength="11.20" lengthAdjust="spacingAndGlyphs" font-weight="bold">****</text>
<line x1="222.78" y1="569.80" x2="222.78" y2="572.40" stroke="#000" stroke-width="1" />
<text transform="translate(225.38,579.20) rotate(-44)" font-size="7" text-anchor="end" fill="#0a35b4">NR2F6</text>
<rect x="229.21" y="491.90" width="7.20" height="12.90" fill="#0a35b4" />
<line x1="232.81" y1="491.90" x2="232.81" y2="489.40" stroke="#0a35b4" stroke-width="0.9" />
<line x1="230.71" y1="489.40" x2="234.91" y2="489.40" stroke="#0a35b4" stroke-width="0.9" />
<text x="227.41" y="487.18" font-size="6.2" textLength="11.20" lengthAdjust="spacingAndGlyphs" font-weight="bold">****</text>
<line x1="232.81" y1="569.80" x2="232.81" y2="572.40" stroke="#000" stroke-width="1" />
<text transform="translate(235.41,579.20) rotate(-44)" font-size="7" text-anchor="end" fill="#0a35b4">SGMS1</text>
<line x1="57.00" y1="471.70" x2="57.00" y2="570.40" stroke="#000" stroke-width="1.3" />
<line x1="56.40" y1="569.80" x2="237.00" y2="569.80" stroke="#000" stroke-width="1.3" />
<line x1="57.00" y1="504.80" x2="237.00" y2="504.80" stroke="#000" stroke-width="1.2" />
<line x1="54.40" y1="472.30" x2="57.00" y2="472.30" stroke="#000" stroke-width="1" />
<text x="43.60" y="475.18" font-size="8" textLength="9.60" lengthAdjust="spacingAndGlyphs">1.0</text>
<line x1="54.40" y1="488.55" x2="57.00" y2="488.55" stroke="#000" stroke-width="1" />
<text x="43.60" y="491.43" font-size="8" textLength="9.60" lengthAdjust="spacingAndGlyphs">0.5</text>
<line x1="54.40" y1="504.80" x2="57.00" y2="504.80" stroke="#000" stroke-width="1" />
<text x="43.60" y="507.68" font-size="8" textLength="9.60" lengthAdjust="spacingAndGlyphs">0.0</text>
<line x1="54.40" y1="521.05" x2="57.00" y2="521.05" stroke="#000" stroke-width="1" />
<text x="41.20" y="523.93" font-size="8" textLength="12.00" lengthAdjust="spacingAndGlyphs">-0.5</text>
<line x1="54.40" y1="537.30" x2="57.00" y2="537.30" stroke="#000" stroke-width="1" />
<text x="41.20" y="540.18" font-size="8" textLength="12.00" lengthAdjust="spacingAndGlyphs">-1.0</text>
<line x1="54.40" y1="553.55" x2="57.00" y2="553.55" stroke="#000" stroke-width="1" />
<text x="41.20" y="556.43" font-size="8" textLength="12.00" lengthAdjust="spacingAndGlyphs">-1.5</text>
<line x1="54.40" y1="569.80" x2="57.00" y2="569.80" stroke="#000" stroke-width="1" />
<text x="41.20" y="572.68" font-size="8" textLength="12.00" lengthAdjust="spacingAndGlyphs">-2.0</text>
<text transform="translate(16.47,516.60) rotate(-90)" font-size="8.8" text-anchor="middle" textLength="66.00" lengthAdjust="spacingAndGlyphs">Log2-fold change in</text>
<text transform="translate(27.57,516.20) rotate(-90)" font-size="8.8" text-anchor="middle" textLength="72.80" lengthAdjust="spacingAndGlyphs">expression (MicroRNA</text>
<text transform="translate(38.07,516.60) rotate(-90)" font-size="8.8" text-anchor="middle" textLength="87.50" lengthAdjust="spacingAndGlyphs">inhibitor/Negative control)</text>
<rect x="160.00" y="551.40" width="4.60" height="3.90" fill="#3cff00" />
<text x="167.80" y="555.70" font-size="6.4" textLength="68.20" lengthAdjust="spacingAndGlyphs" fill="#3cff00" font-style="italic">MIR-130b inhibitor (48h)</text>
<rect x="160.00" y="557.60" width="4.60" height="3.90" fill="#0a35b4" />
<text x="167.80" y="561.90" font-size="6.4" textLength="68.20" lengthAdjust="spacingAndGlyphs" fill="#0a35b4" font-style="italic">MIR-128a inhibitor (48h)</text>
</g>
<g id="panelG">
<text x="282.46" y="449.20" font-size="10" font-weight="bold" textLength="8.83" lengthAdjust="spacingAndGlyphs" stroke="#000" stroke-width="0.3">G</text>
<rect x="301.30" y="440.60" width="75.70" height="10.70" fill="none" stroke="#000" stroke-width="1" />
<text x="303.50" y="448.30" font-size="6.4" textLength="71.50" lengthAdjust="spacingAndGlyphs">Western blot in SEM cells</text>
<rect x="357.00" y="453.75" width="62.20" height="17.30" fill="#000" />
<text x="374.65" y="461.25" font-size="6.8" textLength="27.70" lengthAdjust="spacingAndGlyphs" fill="#fff">mirVanaTM</text>
<text x="370.80" y="469.25" font-size="6.8" textLength="35.40" lengthAdjust="spacingAndGlyphs" fill="#fff">inhibitor (72h)</text>
<text x="346.20" y="480.48" font-size="8" textLength="12.20" lengthAdjust="spacingAndGlyphs">WT</text>
<text x="367.25" y="480.48" font-size="8" textLength="5.50" lengthAdjust="spacingAndGlyphs">C</text>
<text x="382.50" y="480.48" font-size="8" textLength="16.50" lengthAdjust="spacingAndGlyphs" fill="#3cff00">130b</text>
<text x="401.75" y="480.48" font-size="8" textLength="16.50" lengthAdjust="spacingAndGlyphs" fill="#1f50cc">128a</text>
<rect x="357.00" y="530.50" width="62.20" height="17.30" fill="#000" />
<text x="374.65" y="538.05" font-size="6.8" textLength="27.70" lengthAdjust="spacingAndGlyphs" fill="#fff">mirVanaTM</text>
<text x="370.80" y="545.75" font-size="6.8" textLength="35.40" lengthAdjust="spacingAndGlyphs" fill="#fff">inhibitor (72h)</text>
<text x="346.20" y="557.18" font-size="8" textLength="12.20" lengthAdjust="spacingAndGlyphs">WT</text>
<text x="367.25" y="557.18" font-size="8" textLength="5.50" lengthAdjust="spacingAndGlyphs">C</text>
<text x="382.50" y="557.18" font-size="8" textLength="16.50" lengthAdjust="spacingAndGlyphs" fill="#3cff00">130b</text>
<text x="401.75" y="557.18" font-size="8" textLength="16.50" lengthAdjust="spacingAndGlyphs" fill="#1f50cc">128a</text>
<rect x="335.50" y="482.20" width="83.70" height="13.50" fill="url(#bg)" stroke="#000" stroke-width="1.1" />
<line x1="357.50" y1="482.20" x2="357.50" y2="495.70" stroke="#000" stroke-width="1" />
<rect x="335.50" y="508.70" width="83.70" height="14.10" fill="url(#bg)" stroke="#000" stroke-width="1.1" />
<line x1="357.50" y1="508.70" x2="357.50" y2="522.80" stroke="#000" stroke-width="1" />
<rect x="335.50" y="560.40" width="83.70" height="13.80" fill="url(#bg)" stroke="#000" stroke-width="1.1" />
<line x1="357.50" y1="560.40" x2="357.50" y2="574.20" stroke="#000" stroke-width="1" />
<rect x="335.50" y="587.00" width="83.70" height="14.00" fill="url(#bg)" stroke="#000" stroke-width="1.1" />
<line x1="357.50" y1="587.00" x2="357.50" y2="601.00" stroke="#000" stroke-width="1" />
<g clip-path="url(#cpG)">
<ellipse cx="346.00" cy="490.50" rx="8.48" ry="1.80" fill="#000" opacity="0.04" filter="url(#bl)"/>
<ellipse cx="368.00" cy="490.80" rx="8.48" ry="1.14" fill="#000" opacity="0.7" filter="url(#bl)"/>
<ellipse cx="390.00" cy="490.30" rx="9.75" ry="1.68" fill="#000" opacity="0.95" filter="url(#bl)"/>
<ellipse cx="409.60" cy="490.60" rx="9.38" ry="2.40" fill="#000" opacity="1" filter="url(#bl)"/>
<ellipse cx="400.00" cy="490.60" rx="4.24" ry="1.08" fill="#000" opacity="0.8" filter="url(#bl)"/>
<ellipse cx="379.00" cy="490.70" rx="3.18" ry="0.60" fill="#000" opacity="0.3" filter="url(#bl)"/>
<ellipse cx="345.80" cy="518.30" rx="9.70" ry="1.56" fill="#000" opacity="0.95" filter="url(#bl)" transform="rotate(-2 345.80 518.30)"/>
<ellipse cx="367.20" cy="518.30" rx="9.28" ry="0.78" fill="#000" opacity="0.75" filter="url(#bl)"/>
<ellipse cx="387.60" cy="517.80" rx="9.17" ry="0.96" fill="#000" opacity="0.85" filter="url(#bl)"/>
<ellipse cx="408.70" cy="517.60" rx="9.28" ry="1.02" fill="#000" opacity="0.85" filter="url(#bl)"/>
<ellipse cx="346.80" cy="567.60" rx="8.64" ry="0.90" fill="#000" opacity="0.6" filter="url(#bl)" transform="rotate(-3 346.80 567.60)"/>
<ellipse cx="365.00" cy="567.00" rx="6.62" ry="0.72" fill="#000" opacity="0.4" filter="url(#bl)"/>
<ellipse cx="388.80" cy="566.20" rx="9.01" ry="1.74" fill="#000" opacity="0.92" filter="url(#bl)"/>
<ellipse cx="408.80" cy="565.70" rx="9.17" ry="1.98" fill="#000" opacity="0.97" filter="url(#bl)"/>
<ellipse cx="376.20" cy="567.00" rx="0.80" ry="0.90" fill="#000" opacity="0.6" filter="url(#bl)"/>
<ellipse cx="399.00" cy="566.00" rx="3.18" ry="0.78" fill="#000" opacity="0.5" filter="url(#bl)"/>
<ellipse cx="345.80" cy="595.00" rx="9.70" ry="1.56" fill="#000" opacity="0.93" filter="url(#bl)" transform="rotate(-2 345.80 595.00)"/>
<ellipse cx="367.50" cy="594.80" rx="10.18" ry="1.26" fill="#000" opacity="0.9" filter="url(#bl)"/>
<ellipse cx="388.60" cy="593.60" rx="9.17" ry="1.56" fill="#000" opacity="0.93" filter="url(#bl)" transform="rotate(-2 388.60 593.60)"/>
<ellipse cx="408.00" cy="593.00" rx="10.07" ry="1.74" fill="#000" opacity="0.95" filter="url(#bl)" transform="rotate(-1 408.00 593.00)"/>
<ellipse cx="398.50" cy="593.30" rx="3.18" ry="0.96" fill="#000" opacity="0.8" filter="url(#bl)"/>
</g>
<text x="311.50" y="488.12" font-size="7" textLength="21.00" lengthAdjust="spacingAndGlyphs" fill="#107522">NR2F6</text>
<text x="312.50" y="495.72" font-size="7" textLength="20.00" lengthAdjust="spacingAndGlyphs" fill="#107522">18 kDa</text>
<text x="302.00" y="514.32" font-size="7" textLength="30.50" lengthAdjust="spacingAndGlyphs">Beta-actin</text>
<text x="312.50" y="521.92" font-size="7" textLength="20.00" lengthAdjust="spacingAndGlyphs">45 kDa</text>
<text x="310.00" y="567.02" font-size="7" textLength="22.50" lengthAdjust="spacingAndGlyphs" fill="#ff14e6">SGMS1</text>
<text x="312.50" y="574.62" font-size="7" textLength="20.00" lengthAdjust="spacingAndGlyphs" fill="#ff14e6">49 kDa</text>
<text x="302.00" y="593.02" font-size="7" textLength="30.50" lengthAdjust="spacingAndGlyphs">Beta-actin</text>
<text x="312.50" y="600.82" font-size="7" textLength="20.00" lengthAdjust="spacingAndGlyphs">45 kDa</text>
<line x1="419.20" y1="493.80" x2="423.00" y2="493.80" stroke="#000" stroke-width="1" />
<text x="424.50" y="496.18" font-size="6.6" textLength="19.80" lengthAdjust="spacingAndGlyphs">15 kDa</text>
<line x1="419.20" y1="512.60" x2="423.00" y2="512.60" stroke="#000" stroke-width="1" />
<text x="424.50" y="514.98" font-size="6.6" textLength="19.80" lengthAdjust="spacingAndGlyphs">50 kDa</text>
<line x1="419.20" y1="564.30" x2="423.00" y2="564.30" stroke="#000" stroke-width="1" />
<text x="424.50" y="566.68" font-size="6.6" textLength="19.80" lengthAdjust="spacingAndGlyphs">50 kDa</text>
<line x1="419.20" y1="588.00" x2="423.00" y2="588.00" stroke="#000" stroke-width="1" />
<text x="424.50" y="590.38" font-size="6.6" textLength="19.80" lengthAdjust="spacingAndGlyphs">50 kDa</text>
<text x="366.20" y="504.28" font-size="8" textLength="3.60" lengthAdjust="spacingAndGlyphs">1</text>
<text x="383.00" y="504.28" font-size="8" textLength="15.80" lengthAdjust="spacingAndGlyphs" fill="#3cff00">2.4**</text>
<text x="401.30" y="504.28" font-size="8" textLength="16.20" lengthAdjust="spacingAndGlyphs" fill="#1f50cc">2.7**</text>
<text x="366.20" y="582.48" font-size="8" textLength="3.60" lengthAdjust="spacingAndGlyphs">1</text>
<text x="386.30" y="582.48" font-size="8" textLength="11.20" lengthAdjust="spacingAndGlyphs" fill="#3cff00">1.9*</text>
<text x="401.30" y="582.48" font-size="8" textLength="15.70" lengthAdjust="spacingAndGlyphs" fill="#1f50cc">2.5**</text>
</g>
<rect x="0.5" y="0.5" width="519" height="609" fill="none" stroke="#000" stroke-width="1"/>
</svg>
</body>
</html>
